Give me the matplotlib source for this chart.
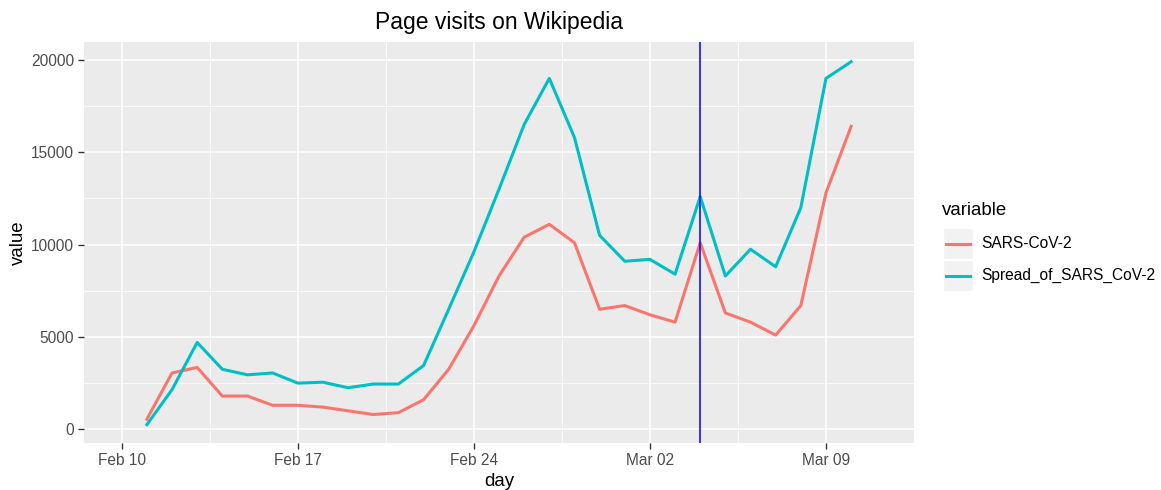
import matplotlib.pyplot as plt
import matplotlib.dates as mdates
import pandas as pd
from matplotlib.patches import Rectangle
from matplotlib.lines import Line2D

plt.rcParams['font.family'] = ['Liberation Sans', 'DejaVu Sans']

# daily page visits, Feb 11 - Mar 10 2020
days = pd.date_range('2020-02-11', '2020-03-10', freq='D')
sars_cov_2 = [550, 3050, 3350, 1800, 1800, 1300, 1300, 1200, 1000, 800,
              900, 1600, 3250, 5600, 8300, 10400, 11100, 10100, 6500, 6700,
              6200, 5800, 10100, 6300, 5800, 5100, 6700, 12800, 16400]
spread = [250, 2150, 4700, 3250, 2950, 3050, 2500, 2550, 2250, 2450,
          2450, 3450, 6500, 9600, 13000, 16500, 19000, 15800, 10500, 9100,
          9200, 8400, 12600, 8300, 9750, 8800, 12000, 19000, 19900]
series_names = ['SARS-CoV-2', 'Spread_of_SARS_CoV-2']
colors = ['#F8766D', '#00BFC4']
vline_day = pd.Timestamp('2020-03-04')
tick_days = pd.to_datetime(['2020-02-10', '2020-02-17', '2020-02-24', '2020-03-02', '2020-03-09'])
tick_labels = ['Feb 10', 'Feb 17', 'Feb 24', 'Mar 02', 'Mar 09']

fig = plt.figure(figsize=(11.61, 4.9), dpi=100)
W, H = 1161, 490
# panel: x 84..914, y 42..443 px
ax = fig.add_axes([84 / W, 1 - 443 / H, 830 / W, 401 / H])
ax.set_facecolor('#EBEBEB')
ax.set_axisbelow(True)
for s in ax.spines.values():
    s.set_visible(False)

ax.plot(days, sars_cov_2, color=colors[0], lw=2.2)
ax.plot(days, spread, color=colors[1], lw=2.2)
ax.axvline(vline_day, color='blue', lw=1.1)

# ggplot axis range (dates Feb 10 - Mar 11 expanded by 5%)
x_lo = mdates.date2num(pd.Timestamp('2020-02-10')) - 1.5
x_hi = mdates.date2num(pd.Timestamp('2020-03-11')) + 1.5
ax.set_xlim(x_lo, x_hi)
ax.set_ylim(-742, 20970)

ax.set_xticks(tick_days)
ax.set_xticklabels(tick_labels)
ax.set_xticks([mdates.date2num(t) + 3.5 for t in tick_days], minor=True)
ax.set_yticks([0, 5000, 10000, 15000, 20000])
ax.set_yticks([2500, 7500, 12500, 17500], minor=True)
ax.grid(which='major', color='white', lw=1.1)
ax.grid(which='minor', color='white', lw=0.55)
ax.tick_params(which='major', length=4, color='#333333', labelcolor='#4D4D4D',
               labelsize=11.2, width=1, pad=3)
ax.tick_params(which='minor', length=0)

ax.set_xlabel('day', fontsize=13.4, labelpad=4)
ax.set_ylabel('value', fontsize=13.4, labelpad=3)
ax.set_title('Page visits on Wikipedia', fontsize=16.5, pad=9)

# legend drawn by hand, ggplot style
fig.text(942 / W, 1 - 210 / H, 'variable', fontsize=13.4, va='center', ha='left')
key_top = [228, 260]
for i, name in enumerate(series_names):
    top = key_top[i]
    fig.patches.append(Rectangle((943 / W, 1 - (top + 31) / H), 30 / W, 31 / H,
                                 transform=fig.transFigure, facecolor='#F2F2F2',
                                 edgecolor='white', lw=1))
    yc = 1 - (top + 15.5) / H
    fig.lines.append(Line2D([946 / W, 970 / W], [yc, yc], transform=fig.transFigure,
                            color=colors[i], lw=2.2))
    fig.text(981 / W, yc, name, fontsize=11.2, va='center', ha='left')

plt.savefig('out.png', dpi=100)
